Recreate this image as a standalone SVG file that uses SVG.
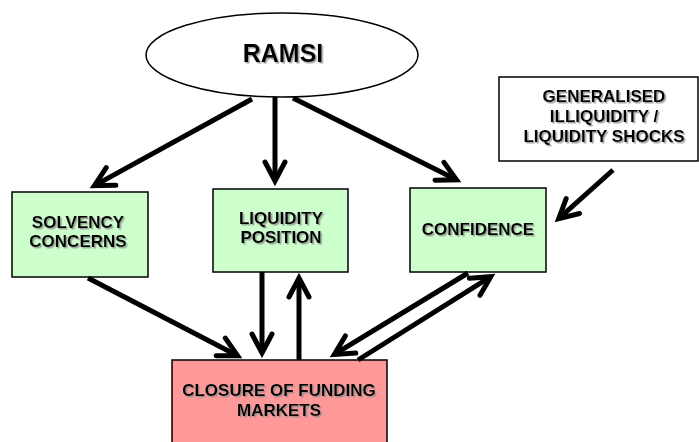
<svg xmlns="http://www.w3.org/2000/svg" width="699" height="442" viewBox="0 0 699 442">
<style>
.box{stroke:#000;stroke-width:1.5}
.green{fill:#ccffcc}
.t{font-family:"Liberation Sans",Arial,sans-serif;font-weight:bold;font-size:17px;fill:#000;text-anchor:middle;filter:url(#sh)}
.c line{stroke:#000;stroke-width:5;marker-end:url(#ah)}
</style>
<defs>
<filter id="sh" x="-10%" y="-30%" width="120%" height="160%">
<feDropShadow dx="1.5" dy="1.5" stdDeviation="0.6" flood-color="#8a8a8a" flood-opacity="0.8"/>
</filter>
<marker id="ah" markerUnits="userSpaceOnUse" viewBox="-25 -15 35 30" markerWidth="35" markerHeight="30" refX="0" refY="0" orient="auto" overflow="visible">
<path d="M-19,-10 L0,0 L-19,10" fill="none" stroke="#000" stroke-width="5" stroke-linecap="round" stroke-linejoin="miter"/>
</marker>
</defs>
<rect width="699" height="442" fill="#fff"/>
<g id="ramsi">
<ellipse cx="282" cy="55" rx="136" ry="42" fill="#fff" class="box"/>
<text class="t" x="283" y="62" style="font-size:25px">RAMSI</text>
</g>
<g id="solvency">
<rect x="12" y="192" width="136" height="85" class="box green"/>
<text class="t" x="78" y="228">SOLVENCY</text>
<text class="t" x="78" y="247">CONCERNS</text>
</g>
<g id="liquidity">
<rect x="213" y="189" width="135" height="83" class="box green"/>
<text class="t" x="281" y="224">LIQUIDITY</text>
<text class="t" x="281" y="243">POSITION</text>
</g>
<g id="confidence">
<rect x="410" y="188" width="136" height="84" class="box green"/>
<text class="t" x="478" y="235">CONFIDENCE</text>
</g>
<g id="generalised">
<rect x="499" y="77" width="199" height="84" fill="#fff" class="box"/>
<text class="t" x="604" y="102">GENERALISED</text>
<text class="t" x="604" y="122">ILLIQUIDITY /</text>
<text class="t" x="604" y="142">LIQUIDITY SHOCKS</text>
</g>
<g id="closure">
<rect x="172" y="360" width="215" height="100" fill="#ff9999" class="box"/>
<text class="t" x="279" y="396">CLOSURE OF FUNDING</text>
<text class="t" x="279" y="416">MARKETS</text>
</g>
<g id="connectors" class="c">
<line x1="252" y1="99" x2="94.4" y2="185.6"/>
<line x1="275" y1="97" x2="275" y2="181"/>
<line x1="293" y1="98" x2="456.5" y2="179.8"/>
<line x1="613" y1="170" x2="558.7" y2="218.7"/>
<line x1="88" y1="278" x2="237.6" y2="355.7"/>
<line x1="262" y1="272" x2="262" y2="353"/>
<line x1="299" y1="360" x2="299" y2="278"/>
<line x1="468" y1="273" x2="334.3" y2="354.4"/>
<line x1="358" y1="360" x2="490.8" y2="276.7"/>
</g>
</svg>
